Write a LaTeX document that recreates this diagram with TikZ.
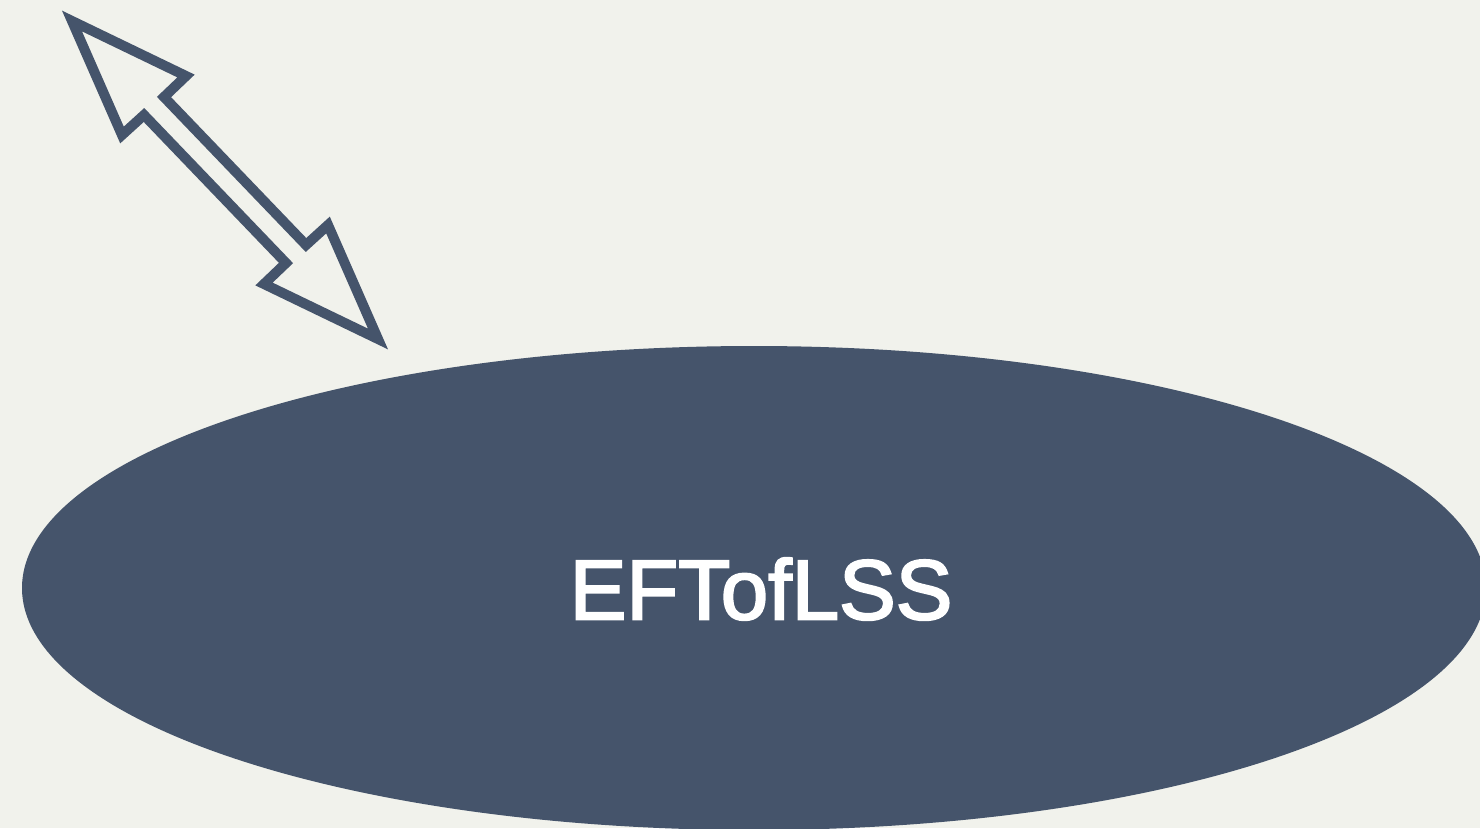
\documentclass[tikz,border=0pt]{standalone}
\usepackage{fontspec}
\setmainfont{Liberation Sans}
\newfontfamily\labelfont{Liberation Sans}[FakeBold=2.5]
\usetikzlibrary{shapes.geometric}
\definecolor{paper}{HTML}{F1F2EC}
\definecolor{slate}{HTML}{45546B}
\tikzset{
  blob/.style={ellipse, fill=slate, draw=none, minimum width=1464pt, minimum height=484pt, inner sep=0pt},
  label/.style={text=white, font=\labelfont\fontsize{85}{90}\selectfont},
  hollowarrow/.style={draw=slate, fill=paper, line width=10pt, line join=miter, miter limit=10},
}
\begin{document}
\begin{tikzpicture}[x=1pt, y=-1pt]
  % canvas
  \fill[paper] (0,0) rectangle (1480,828);
  \useasboundingbox (0,0) rectangle (1480,828);
  \begin{scope}
    \clip (0,0) rectangle (1480,828);
    \node[blob] (eft) at (754,588) {};
  \end{scope}
  \node[label, anchor=center] (eftlabel) at (761,589) {EFTofLSS};
  % two-headed outline arrow
  \draw[hollowarrow]
    (72,21) -- (186,76) -- (164,97) -- (306,245) -- (328,225)
    -- (378,339) -- (264,284) -- (286,263) -- (144,115) -- (122,135) -- cycle;
\end{tikzpicture}
\end{document}
